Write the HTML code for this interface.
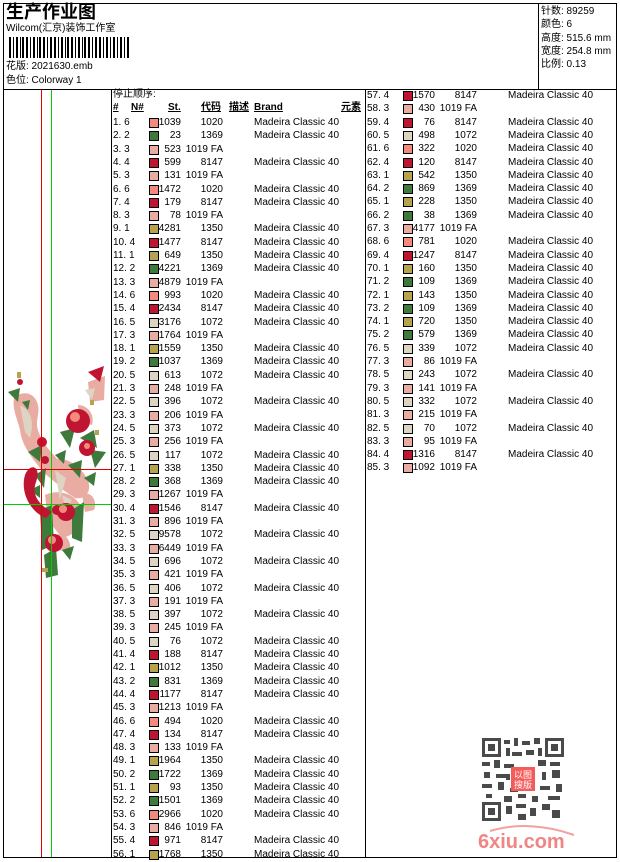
<!DOCTYPE html>
<html><head><meta charset="utf-8"><style>
*{margin:0;padding:0;box-sizing:border-box}
body{width:620px;height:860px;background:#fff;position:relative;overflow:hidden;font-family:"Liberation Sans","Noto Sans CJK SC",sans-serif;font-size:10px;color:#000}
.a{position:absolute;white-space:nowrap}
.ln{position:absolute;background:#000}
.col{position:absolute;top:0;width:250px}
.r{position:absolute;left:0;height:14px;line-height:14px;width:250px}
.r b,.r i,.r s,.r u,.r em{position:absolute;top:0;font-weight:normal;font-style:normal;text-decoration:none}
.r b{left:0}
.r i{left:36px;top:2px;width:10px;height:10px;border:1px solid #000}
.r s{left:40px;width:28px;text-align:right}
.r u{left:68px;width:42px;text-align:right}
.r em{left:141px}
.k6{background:#f38b7d}.k2{background:#3d7a3b}.k3{background:#e8aca3}.k4{background:#c01433}.k1{background:#b5a34e}.k5{background:#ddd4c3}
.h{position:absolute;top:102px;height:12px;line-height:12px;font-weight:bold;text-decoration:underline;font-size:10px;font-family:"Liberation Sans","Noto Sans CJK SC",sans-serif}
</style></head><body>
<div class="ln" style="left:3px;top:3px;width:614px;height:1px"></div>
<div class="ln" style="left:3px;top:857px;width:614px;height:1px"></div>
<div class="ln" style="left:3px;top:3px;width:1px;height:855px"></div>
<div class="ln" style="left:616px;top:3px;width:1px;height:855px"></div>
<div class="ln" style="left:3px;top:89px;width:614px;height:1px"></div>
<div class="ln" style="left:538px;top:3px;width:1px;height:87px"></div>
<div class="ln" style="left:111px;top:89px;width:1px;height:769px"></div>
<div class="ln" style="left:365px;top:89px;width:1px;height:769px"></div>

<svg class="a" style="left:0;top:360px" width="111" height="230">
<g fill="#e8aca3">
<path d="M14 38 C22 30 35 32 38 45 C40 55 35 60 38 70 C42 85 55 95 62 105 C70 115 78 118 80 125 L70 135 C60 125 48 118 40 108 C30 95 22 85 20 70 C18 60 12 50 14 38 Z"/>
<path d="M50 100 C65 95 80 105 88 120 C92 132 85 140 75 138 L60 128 Z"/>
<path d="M45 135 C60 128 78 135 82 150 C86 165 75 175 62 178 L48 160 Z"/>
<path d="M82 135 C90 130 98 140 94 150 L85 152 Z"/>
<path d="M88 22 L105 16 L104 40 L90 42 Z"/>
<path d="M78 45 C88 45 95 55 92 65 L80 62 Z"/>
<path d="M55 175 C65 172 72 180 70 192 L58 190 Z"/>
</g>
<g fill="#ddd4c3"><path d="M20 45 C30 50 35 60 30 78 L25 72 Z"/><path d="M55 110 L66 118 L60 140 Z"/><path d="M85 30 L95 28 L92 40 Z"/><path d="M62 135 L72 140 L66 150 Z"/></g>
<g fill="#3d7a3b">
<path d="M8 32 L20 28 L18 42 Z"/><path d="M22 42 L30 40 L28 50 Z"/><path d="M60 72 L75 68 L70 88 Z"/><path d="M90 90 L106 92 L95 108 Z"/>
<path d="M28 92 L42 85 L40 102 Z"/><path d="M68 105 L82 100 L80 118 Z"/><path d="M35 115 L46 108 L44 128 Z"/>
<path d="M72 150 L84 142 L82 182 L72 178 Z"/><path d="M40 150 L52 145 L54 185 L42 190 Z"/><path d="M44 195 L56 188 L58 215 L46 218 Z"/>
<path d="M80 78 L94 70 L97 88 Z"/><path d="M55 95 L66 90 L64 104 Z"/><path d="M84 118 L96 112 L94 126 Z"/><path d="M30 130 L40 125 L40 138 Z"/>
<path d="M62 190 L74 186 L70 200 Z"/>
</g>
<g fill="#c01433">
<circle cx="78" cy="61" r="12"/><circle cx="87" cy="88" r="8"/><circle cx="42" cy="82" r="5"/>
<path d="M25 115 C30 102 42 106 36 122 C31 136 40 145 52 152 L46 158 C30 152 20 132 25 115 Z"/>
<circle cx="66" cy="152" r="9"/><circle cx="54" cy="183" r="9"/><path d="M88 12 L104 6 L100 22 Z"/><circle cx="20" cy="22" r="3"/>
<circle cx="57" cy="150" r="5"/><circle cx="45" cy="100" r="4"/>
</g>
<g fill="#f38b7d"><circle cx="75" cy="57" r="5"/><circle cx="63" cy="149" r="4"/><circle cx="52" cy="180" r="4"/><circle cx="87" cy="86" r="3"/></g>
<g fill="#b5a34e"><rect x="17" y="12" width="4" height="6"/><rect x="90" y="40" width="4" height="5"/><rect x="42" y="208" width="6" height="4"/><rect x="95" y="70" width="4" height="5"/></g>
</svg>
<div style="position:absolute;left:41px;top:90px;width:1px;height:767px;background:#e00000"></div>
<div style="position:absolute;left:51px;top:90px;width:1px;height:767px;background:#00d000"></div>
<div style="position:absolute;left:4px;top:469px;width:107px;height:1px;background:#e00000"></div>
<div style="position:absolute;left:4px;top:504px;width:107px;height:1px;background:#00d000"></div>

<div class="a" style="left:6px;top:1px;font-size:18px;font-weight:bold;line-height:22px">生产作业图</div>
<div class="a" style="left:6px;top:23px;font-size:10px;line-height:12px">Wilcom(汇京)装饰工作室</div>
<svg class="a" style="left:9px;top:37px" width="120" height="21">
<g fill="#000">
<rect x="0" y="0" width="2" height="21"/><rect x="4" y="0" width="1" height="21"/><rect x="7" y="0" width="2" height="21"/><rect x="11" y="0" width="1" height="21"/><rect x="13" y="0" width="2" height="21"/><rect x="17" y="0" width="2" height="21"/><rect x="21" y="0" width="1" height="21"/><rect x="24" y="0" width="2" height="21"/><rect x="28" y="0" width="1" height="21"/><rect x="30" y="0" width="2" height="21"/><rect x="34" y="0" width="2" height="21"/><rect x="38" y="0" width="1" height="21"/><rect x="41" y="0" width="2" height="21"/><rect x="45" y="0" width="2" height="21"/><rect x="49" y="0" width="1" height="21"/><rect x="52" y="0" width="2" height="21"/><rect x="56" y="0" width="1" height="21"/><rect x="58" y="0" width="2" height="21"/><rect x="62" y="0" width="2" height="21"/><rect x="66" y="0" width="1" height="21"/><rect x="69" y="0" width="2" height="21"/><rect x="73" y="0" width="1" height="21"/><rect x="75" y="0" width="2" height="21"/><rect x="79" y="0" width="2" height="21"/><rect x="83" y="0" width="1" height="21"/><rect x="86" y="0" width="2" height="21"/><rect x="90" y="0" width="2" height="21"/><rect x="94" y="0" width="1" height="21"/><rect x="97" y="0" width="2" height="21"/><rect x="101" y="0" width="1" height="21"/><rect x="104" y="0" width="2" height="21"/><rect x="108" y="0" width="1" height="21"/><rect x="111" y="0" width="2" height="21"/><rect x="115" y="0" width="1" height="21"/><rect x="118" y="0" width="2" height="21"/>
</g></svg>
<div class="a" style="left:6px;top:61px;line-height:12px">花版: 2021630.emb</div>
<div class="a" style="left:6px;top:75px;line-height:12px">色位: Colorway 1</div>
<div class="a" style="left:541px;top:5px;line-height:13.3px">针数: 89259<br>颜色: 6<br>高度: 515.6 mm<br>宽度: 254.8 mm<br>比例: 0.13</div>

<div class="a" style="left:113px;top:89px;line-height:12px">停止顺序:</div>
<div class="h" style="left:113px">#</div>
<div class="h" style="left:131px">N#</div>
<div class="h" style="left:168px">St.</div>
<div class="h" style="left:201px">代码</div>
<div class="h" style="left:229px">描述</div>
<div class="h" style="left:254px">Brand</div>
<div class="h" style="left:341px">元素</div>

<div class="col" style="left:113px;top:2px">
<div class="r" style="top:114px"><b>1. 6</b><i class="k6"></i><s>1039</s><u>1020</u><em>Madeira Classic 40</em></div>
<div class="r" style="top:127.3px"><b>2. 2</b><i class="k2"></i><s>23</s><u>1369</u><em>Madeira Classic 40</em></div>
<div class="r" style="top:140.6px"><b>3. 3</b><i class="k3"></i><s>523</s><u>1019 FA</u></div>
<div class="r" style="top:153.9px"><b>4. 4</b><i class="k4"></i><s>599</s><u>8147</u><em>Madeira Classic 40</em></div>
<div class="r" style="top:167.2px"><b>5. 3</b><i class="k3"></i><s>131</s><u>1019 FA</u></div>
<div class="r" style="top:180.5px"><b>6. 6</b><i class="k6"></i><s>1472</s><u>1020</u><em>Madeira Classic 40</em></div>
<div class="r" style="top:193.8px"><b>7. 4</b><i class="k4"></i><s>179</s><u>8147</u><em>Madeira Classic 40</em></div>
<div class="r" style="top:207.1px"><b>8. 3</b><i class="k3"></i><s>78</s><u>1019 FA</u></div>
<div class="r" style="top:220.4px"><b>9. 1</b><i class="k1"></i><s>4281</s><u>1350</u><em>Madeira Classic 40</em></div>
<div class="r" style="top:233.7px"><b>10. 4</b><i class="k4"></i><s>1477</s><u>8147</u><em>Madeira Classic 40</em></div>
<div class="r" style="top:247px"><b>11. 1</b><i class="k1"></i><s>649</s><u>1350</u><em>Madeira Classic 40</em></div>
<div class="r" style="top:260.3px"><b>12. 2</b><i class="k2"></i><s>4221</s><u>1369</u><em>Madeira Classic 40</em></div>
<div class="r" style="top:273.6px"><b>13. 3</b><i class="k3"></i><s>4879</s><u>1019 FA</u></div>
<div class="r" style="top:286.9px"><b>14. 6</b><i class="k6"></i><s>993</s><u>1020</u><em>Madeira Classic 40</em></div>
<div class="r" style="top:300.2px"><b>15. 4</b><i class="k4"></i><s>2434</s><u>8147</u><em>Madeira Classic 40</em></div>
<div class="r" style="top:313.5px"><b>16. 5</b><i class="k5"></i><s>3176</s><u>1072</u><em>Madeira Classic 40</em></div>
<div class="r" style="top:326.8px"><b>17. 3</b><i class="k3"></i><s>1764</s><u>1019 FA</u></div>
<div class="r" style="top:340.1px"><b>18. 1</b><i class="k1"></i><s>1559</s><u>1350</u><em>Madeira Classic 40</em></div>
<div class="r" style="top:353.4px"><b>19. 2</b><i class="k2"></i><s>1037</s><u>1369</u><em>Madeira Classic 40</em></div>
<div class="r" style="top:366.7px"><b>20. 5</b><i class="k5"></i><s>613</s><u>1072</u><em>Madeira Classic 40</em></div>
<div class="r" style="top:380px"><b>21. 3</b><i class="k3"></i><s>248</s><u>1019 FA</u></div>
<div class="r" style="top:393.3px"><b>22. 5</b><i class="k5"></i><s>396</s><u>1072</u><em>Madeira Classic 40</em></div>
<div class="r" style="top:406.6px"><b>23. 3</b><i class="k3"></i><s>206</s><u>1019 FA</u></div>
<div class="r" style="top:419.9px"><b>24. 5</b><i class="k5"></i><s>373</s><u>1072</u><em>Madeira Classic 40</em></div>
<div class="r" style="top:433.2px"><b>25. 3</b><i class="k3"></i><s>256</s><u>1019 FA</u></div>
<div class="r" style="top:446.5px"><b>26. 5</b><i class="k5"></i><s>117</s><u>1072</u><em>Madeira Classic 40</em></div>
<div class="r" style="top:459.8px"><b>27. 1</b><i class="k1"></i><s>338</s><u>1350</u><em>Madeira Classic 40</em></div>
<div class="r" style="top:473.1px"><b>28. 2</b><i class="k2"></i><s>368</s><u>1369</u><em>Madeira Classic 40</em></div>
<div class="r" style="top:486.4px"><b>29. 3</b><i class="k3"></i><s>1267</s><u>1019 FA</u></div>
<div class="r" style="top:499.7px"><b>30. 4</b><i class="k4"></i><s>1546</s><u>8147</u><em>Madeira Classic 40</em></div>
<div class="r" style="top:513px"><b>31. 3</b><i class="k3"></i><s>896</s><u>1019 FA</u></div>
<div class="r" style="top:526.3px"><b>32. 5</b><i class="k5"></i><s>9578</s><u>1072</u><em>Madeira Classic 40</em></div>
<div class="r" style="top:539.6px"><b>33. 3</b><i class="k3"></i><s>6449</s><u>1019 FA</u></div>
<div class="r" style="top:552.9px"><b>34. 5</b><i class="k5"></i><s>696</s><u>1072</u><em>Madeira Classic 40</em></div>
<div class="r" style="top:566.2px"><b>35. 3</b><i class="k3"></i><s>421</s><u>1019 FA</u></div>
<div class="r" style="top:579.5px"><b>36. 5</b><i class="k5"></i><s>406</s><u>1072</u><em>Madeira Classic 40</em></div>
<div class="r" style="top:592.8px"><b>37. 3</b><i class="k3"></i><s>191</s><u>1019 FA</u></div>
<div class="r" style="top:606.1px"><b>38. 5</b><i class="k5"></i><s>397</s><u>1072</u><em>Madeira Classic 40</em></div>
<div class="r" style="top:619.4px"><b>39. 3</b><i class="k3"></i><s>245</s><u>1019 FA</u></div>
<div class="r" style="top:632.7px"><b>40. 5</b><i class="k5"></i><s>76</s><u>1072</u><em>Madeira Classic 40</em></div>
<div class="r" style="top:646px"><b>41. 4</b><i class="k4"></i><s>188</s><u>8147</u><em>Madeira Classic 40</em></div>
<div class="r" style="top:659.3px"><b>42. 1</b><i class="k1"></i><s>1012</s><u>1350</u><em>Madeira Classic 40</em></div>
<div class="r" style="top:672.6px"><b>43. 2</b><i class="k2"></i><s>831</s><u>1369</u><em>Madeira Classic 40</em></div>
<div class="r" style="top:685.9px"><b>44. 4</b><i class="k4"></i><s>1177</s><u>8147</u><em>Madeira Classic 40</em></div>
<div class="r" style="top:699.2px"><b>45. 3</b><i class="k3"></i><s>1213</s><u>1019 FA</u></div>
<div class="r" style="top:712.5px"><b>46. 6</b><i class="k6"></i><s>494</s><u>1020</u><em>Madeira Classic 40</em></div>
<div class="r" style="top:725.8px"><b>47. 4</b><i class="k4"></i><s>134</s><u>8147</u><em>Madeira Classic 40</em></div>
<div class="r" style="top:739.1px"><b>48. 3</b><i class="k3"></i><s>133</s><u>1019 FA</u></div>
<div class="r" style="top:752.4px"><b>49. 1</b><i class="k1"></i><s>1964</s><u>1350</u><em>Madeira Classic 40</em></div>
<div class="r" style="top:765.7px"><b>50. 2</b><i class="k2"></i><s>1722</s><u>1369</u><em>Madeira Classic 40</em></div>
<div class="r" style="top:779px"><b>51. 1</b><i class="k1"></i><s>93</s><u>1350</u><em>Madeira Classic 40</em></div>
<div class="r" style="top:792.3px"><b>52. 2</b><i class="k2"></i><s>1501</s><u>1369</u><em>Madeira Classic 40</em></div>
<div class="r" style="top:805.6px"><b>53. 6</b><i class="k6"></i><s>2966</s><u>1020</u><em>Madeira Classic 40</em></div>
<div class="r" style="top:818.9px"><b>54. 3</b><i class="k3"></i><s>846</s><u>1019 FA</u></div>
<div class="r" style="top:832.2px"><b>55. 4</b><i class="k4"></i><s>971</s><u>8147</u><em>Madeira Classic 40</em></div>
<div class="r" style="top:845.5px"><b>56. 1</b><i class="k1"></i><s>1768</s><u>1350</u><em>Madeira Classic 40</em></div>
</div>

<div class="col" style="left:367px;top:2px">
<div class="r" style="top:87px"><b>57. 4</b><i class="k4"></i><s>1570</s><u>8147</u><em>Madeira Classic 40</em></div>
<div class="r" style="top:100.3px"><b>58. 3</b><i class="k3"></i><s>430</s><u>1019 FA</u></div>
<div class="r" style="top:113.6px"><b>59. 4</b><i class="k4"></i><s>76</s><u>8147</u><em>Madeira Classic 40</em></div>
<div class="r" style="top:126.9px"><b>60. 5</b><i class="k5"></i><s>498</s><u>1072</u><em>Madeira Classic 40</em></div>
<div class="r" style="top:140.2px"><b>61. 6</b><i class="k6"></i><s>322</s><u>1020</u><em>Madeira Classic 40</em></div>
<div class="r" style="top:153.5px"><b>62. 4</b><i class="k4"></i><s>120</s><u>8147</u><em>Madeira Classic 40</em></div>
<div class="r" style="top:166.8px"><b>63. 1</b><i class="k1"></i><s>542</s><u>1350</u><em>Madeira Classic 40</em></div>
<div class="r" style="top:180.1px"><b>64. 2</b><i class="k2"></i><s>869</s><u>1369</u><em>Madeira Classic 40</em></div>
<div class="r" style="top:193.4px"><b>65. 1</b><i class="k1"></i><s>228</s><u>1350</u><em>Madeira Classic 40</em></div>
<div class="r" style="top:206.7px"><b>66. 2</b><i class="k2"></i><s>38</s><u>1369</u><em>Madeira Classic 40</em></div>
<div class="r" style="top:220px"><b>67. 3</b><i class="k3"></i><s>4177</s><u>1019 FA</u></div>
<div class="r" style="top:233.3px"><b>68. 6</b><i class="k6"></i><s>781</s><u>1020</u><em>Madeira Classic 40</em></div>
<div class="r" style="top:246.6px"><b>69. 4</b><i class="k4"></i><s>1247</s><u>8147</u><em>Madeira Classic 40</em></div>
<div class="r" style="top:259.9px"><b>70. 1</b><i class="k1"></i><s>160</s><u>1350</u><em>Madeira Classic 40</em></div>
<div class="r" style="top:273.2px"><b>71. 2</b><i class="k2"></i><s>109</s><u>1369</u><em>Madeira Classic 40</em></div>
<div class="r" style="top:286.5px"><b>72. 1</b><i class="k1"></i><s>143</s><u>1350</u><em>Madeira Classic 40</em></div>
<div class="r" style="top:299.8px"><b>73. 2</b><i class="k2"></i><s>109</s><u>1369</u><em>Madeira Classic 40</em></div>
<div class="r" style="top:313.1px"><b>74. 1</b><i class="k1"></i><s>720</s><u>1350</u><em>Madeira Classic 40</em></div>
<div class="r" style="top:326.4px"><b>75. 2</b><i class="k2"></i><s>579</s><u>1369</u><em>Madeira Classic 40</em></div>
<div class="r" style="top:339.7px"><b>76. 5</b><i class="k5"></i><s>339</s><u>1072</u><em>Madeira Classic 40</em></div>
<div class="r" style="top:353px"><b>77. 3</b><i class="k3"></i><s>86</s><u>1019 FA</u></div>
<div class="r" style="top:366.3px"><b>78. 5</b><i class="k5"></i><s>243</s><u>1072</u><em>Madeira Classic 40</em></div>
<div class="r" style="top:379.6px"><b>79. 3</b><i class="k3"></i><s>141</s><u>1019 FA</u></div>
<div class="r" style="top:392.9px"><b>80. 5</b><i class="k5"></i><s>332</s><u>1072</u><em>Madeira Classic 40</em></div>
<div class="r" style="top:406.2px"><b>81. 3</b><i class="k3"></i><s>215</s><u>1019 FA</u></div>
<div class="r" style="top:419.5px"><b>82. 5</b><i class="k5"></i><s>70</s><u>1072</u><em>Madeira Classic 40</em></div>
<div class="r" style="top:432.8px"><b>83. 3</b><i class="k3"></i><s>95</s><u>1019 FA</u></div>
<div class="r" style="top:446.1px"><b>84. 4</b><i class="k4"></i><s>1316</s><u>8147</u><em>Madeira Classic 40</em></div>
<div class="r" style="top:459.4px"><b>85. 3</b><i class="k3"></i><s>1092</s><u>1019 FA</u></div>
</div>

<svg class="a" style="left:482px;top:738px" width="82" height="83">
<rect width="82" height="83" fill="#fff"/>
<g fill="#4a4a4a">
<rect x="0" y="0" width="19" height="19"/><rect x="63" y="0" width="19" height="19"/><rect x="0" y="64" width="19" height="19"/>
</g>
<g fill="#fff"><rect x="3" y="3" width="13" height="13"/><rect x="66" y="3" width="13" height="13"/><rect x="3" y="67" width="13" height="13"/></g>
<g fill="#4a4a4a"><rect x="6" y="6" width="7" height="7"/><rect x="69" y="6" width="7" height="7"/><rect x="6" y="70" width="7" height="7"/></g>
<g fill="#4a4a4a">
<rect x="22" y="2" width="6" height="4"/><rect x="32" y="0" width="4" height="8"/><rect x="40" y="3" width="8" height="4"/><rect x="52" y="0" width="6" height="6"/><rect x="24" y="10" width="4" height="8"/><rect x="44" y="12" width="8" height="5"/>
<rect x="0" y="24" width="8" height="4"/><rect x="12" y="22" width="6" height="8"/><rect x="22" y="26" width="10" height="4"/><rect x="56" y="22" width="8" height="6"/><rect x="68" y="24" width="10" height="4"/>
<rect x="2" y="34" width="6" height="6"/><rect x="14" y="36" width="10" height="4"/><rect x="60" y="34" width="4" height="8"/><rect x="70" y="32" width="8" height="8"/>
<rect x="0" y="46" width="10" height="4"/><rect x="16" y="44" width="6" height="8"/><rect x="28" y="50" width="8" height="4"/><rect x="58" y="48" width="10" height="4"/><rect x="74" y="46" width="6" height="8"/>
<rect x="4" y="56" width="6" height="4"/><rect x="22" y="58" width="8" height="6"/><rect x="36" y="56" width="8" height="4"/><rect x="50" y="58" width="6" height="6"/><rect x="66" y="58" width="12" height="4"/>
<rect x="24" y="68" width="6" height="8"/><rect x="34" y="66" width="10" height="4"/><rect x="48" y="70" width="6" height="8"/><rect x="60" y="66" width="8" height="6"/><rect x="70" y="72" width="8" height="8"/><rect x="36" y="76" width="8" height="6"/>
<rect x="24" y="36" width="4" height="6"/><rect x="30" y="14" width="10" height="4"/><rect x="56" y="10" width="4" height="8"/>
</g>
<rect x="29" y="29" width="24" height="24" fill="#f45c5c"/>
<text x="41" y="40" font-size="9" fill="#fff" text-anchor="middle" font-family="Noto Sans CJK SC,sans-serif">以图</text>
<text x="41" y="50" font-size="9" fill="#fff" text-anchor="middle" font-family="Noto Sans CJK SC,sans-serif">搜版</text>
</svg>
<svg class="a" style="left:476px;top:825px" width="100" height="26">
<path d="M14 6 C40 -2 70 0 98 10" stroke="#f3a0a0" stroke-width="2" fill="none"/>
<text x="2" y="23" font-size="20" font-weight="bold" fill="#f08585" font-family="Liberation Sans,sans-serif">6xiu.com</text>
</svg>
</body></html>
